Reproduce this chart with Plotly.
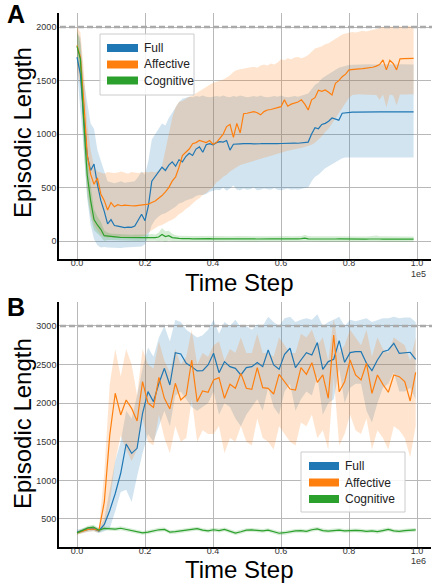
import numpy as np
import plotly.graph_objects as go

W, H = 432, 583

# ---------------- Panel A data (x in units of 1e5 steps) ----------------
steps_a = np.arange(100) * 1000
max_len_a = 2000

full_a = [1720,1560,1150,800,660,720,530,380,280,160,
          200,145,140,135,125,130,128,140,200,250,
          190,330,560,600,650,690,660,710,740,700,
          760,740,790,820,800,860,880,830,900,910,
          900,920,930,925,940,850,905,910,908,910,
          912,910,908,912,910,912,910,913,912,910,
          912,914,912,913,915,914,916,918,925,1000,
          1060,1050,1090,1100,1120,1150,1140,1130,1195,1200,
          1205,1206,1206,1207,1207,1207,1206,1207,1207,1208,
          1207,1207,1207,1208,1207,1207,1207,1207,1207,1207]
full_a_hi = [1950,1900,1500,1300,1100,1050,850,750,650,560,
             550,540,550,560,545,550,555,560,600,650,
             620,750,950,1000,1050,1100,1080,1150,1200,1250,
             1300,1330,1340,1350,1345,1355,1350,1360,1350,1345,
             1350,1355,1350,1360,1350,1345,1355,1350,1360,1350,
             1345,1350,1355,1350,1360,1350,1345,1350,1355,1350,
             1360,1350,1345,1350,1355,1350,1360,1365,1380,1420,
             1460,1480,1520,1540,1560,1580,1600,1620,1630,1640,
             1645,1648,1650,1650,1648,1650,1652,1650,1648,1650,
             1652,1650,1650,1648,1650,1652,1650,1650,1650,1650]
full_a_lo = [1600,1250,850,400,150,20,-40,-60,-55,-60,
             -62,-58,-60,-65,-60,-58,-62,-60,-55,-50,
             -30,50,150,200,230,250,260,280,300,320,
             350,360,380,390,400,420,430,430,440,460,
             470,480,475,500,470,490,520,480,475,490,
             480,485,500,475,480,490,485,480,495,480,
             475,485,490,480,485,480,490,495,500,560,
             600,620,650,680,700,720,740,760,775,780,
             780,782,780,778,780,782,780,780,778,780,
             782,780,780,778,780,780,782,780,780,780]

aff_a = [1830,1720,1300,810,625,530,590,440,380,290,
         360,320,340,330,335,330,330,328,332,335,
         340,345,360,375,400,425,460,500,560,600,
         690,800,830,860,910,920,940,930,920,940,
         905,920,960,1000,1070,1090,970,1100,1010,1190,
         1195,1200,1210,1200,1180,1210,1225,1230,1240,1250,
         1256,1320,1260,1280,1290,1300,1320,1280,1225,1320,
         1340,1410,1400,1412,1390,1366,1475,1500,1537,1560,
         1600,1605,1608,1610,1612,1615,1616,1625,1635,1650,
         1694,1600,1690,1660,1600,1704,1706,1706,1707,1707]
aff_a_hi = [2000,1950,1600,1100,850,700,650,640,630,645,
            640,635,640,650,640,630,645,640,635,640,
            645,640,650,640,660,700,850,1000,1150,1250,
            1300,1310,1330,1350,1360,1380,1400,1420,1440,1460,
            1480,1490,1500,1510,1530,1550,1580,1600,1605,1610,
            1620,1625,1630,1620,1640,1650,1640,1660,1650,1670,
            1700,1690,1710,1700,1715,1720,1710,1720,1740,1770,
            1800,1810,1820,1840,1850,1870,1890,1910,1930,1940,
            1950,1955,1950,1960,1965,1960,1970,1975,1980,1990,
            2000,1995,2005,2000,2010,2005,2000,2010,2005,2005]
aff_a_lo = [1600,1450,1000,500,250,150,100,60,40,30,
            35,30,40,35,30,35,40,30,35,40,
            50,80,100,120,140,150,170,185,200,220,
            250,270,300,320,350,380,400,430,450,480,
            500,550,570,600,620,650,670,690,710,720,
            730,740,750,760,770,780,790,800,810,820,
            830,840,845,850,860,865,870,880,890,900,
            920,950,980,1020,1050,1100,1150,1200,1250,1300,
            1340,1365,1370,1372,1370,1368,1370,1370,1365,1320,
            1370,1250,1370,1360,1270,1370,1368,1370,1372,1370]

cog_a = [1820,1700,1100,620,380,200,150,110,50,45,
         40,38,36,33,32,33,31,32,30,32,
         33,31,34,32,38,62,42,50,32,26,
         24,22,24,22,21,22,24,22,21,22,
         21,22,21,20,22,21,20,21,22,21,
         20,21,20,19,21,20,19,20,21,20,
         19,20,21,19,20,21,22,28,21,20,
         19,20,19,20,19,18,19,20,19,18,
         19,18,19,18,19,18,19,20,24,19,
         18,19,18,19,18,19,18,17,18,17]
cog_a_spread = [150,150,250,200,150,100,80,70,50,35,
                30,30,30,28,30,30,28,30,30,30,
                30,30,32,30,40,60,50,45,35,28,
                25,25,25,25,25,25,25,25,25,25,
                25,25,25,25,25,25,25,25,25,25,
                25,25,25,25,25,25,25,25,25,25,
                25,25,25,25,25,25,25,30,25,25,
                25,25,25,25,25,25,25,25,25,25,
                25,25,25,25,25,25,25,25,28,25,
                25,25,25,25,25,25,25,25,25,25]

# ---------------- Panel B data (x in units of 1e6 steps) ----------------
steps_b = np.arange(63) * 16065
max_len_b = 3000

full_b = [330,350,365,375,345,430,610,830,1092,1471,
          1350,1415,1869,2149,2019,2257,2451,2235,2654,2637,
          2516,2473,2417,2421,2494,2646,2395,2538,2473,2451,
          2365,2460,2473,2525,2473,2689,2494,2438,2633,2711,
          2460,2559,2654,2624,2784,2438,2538,2568,2810,2529,
          2654,2667,2667,2516,2421,2559,2667,2689,2775,2646,
          2654,2659,2568]
full_b_hi = [360,380,395,405,375,500,900,1250,1500,1900,
             1800,2100,2450,2720,2600,2850,3000,2800,3080,3050,
             2950,2900,2850,2880,2950,3080,2900,3050,3000,3080,
             2980,3000,2950,3020,3000,3120,3050,3000,3100,3120,
             3050,3080,3100,3080,3150,3000,3050,3080,3120,3000,
             3080,3060,3080,3100,3050,3080,3100,3100,3120,3100,
             3110,3110,3050]
full_b_lo = [300,320,335,345,315,340,380,600,850,880,
             720,1050,1350,1600,1500,1700,1900,1700,2100,2150,
             2050,1950,1900,1950,2000,2150,1850,2000,1950,1800,
             1700,1850,1950,2050,1900,2200,1950,1850,2150,2250,
             1900,2050,2150,2100,2350,1850,2000,2050,2450,2000,
             2200,2250,2250,1900,1750,2000,2200,2250,2400,2150,
             2150,2200,2050]

aff_b = [320,345,365,370,350,720,1588,2128,1847,2041,
         1933,1769,2278,2001,1945,2335,2063,1925,2257,2041,
         2106,2559,2020,2158,2141,2300,2330,2063,2244,2192,
         2386,2192,2179,2459,2201,2192,2118,2373,2278,2183,
         2170,2459,2373,2524,2270,2365,2063,2882,2148,2278,
         2559,2365,2300,2516,2127,2365,2244,2141,2365,2343,
         2278,2028,2399]
aff_b_hi = [345,375,395,400,380,1100,2250,2700,2350,2700,
            2500,2100,2700,2500,2450,2800,2550,2400,2700,2500,
            2600,2950,2500,2650,2600,2750,2800,2550,2700,2650,
            2850,2650,2650,2900,2650,2650,2600,2850,2750,2650,
            2650,2900,2850,2950,2750,2850,2550,3100,2650,2750,
            2950,2850,2750,2950,2600,2850,2700,2650,2850,2800,
            2750,2550,2850]
aff_b_lo = [295,315,335,340,320,380,700,1250,1580,1400,
            1250,1400,1800,1500,1450,1850,1550,1350,1700,1500,
            1550,2050,1500,1650,1600,1600,1700,1350,1550,1500,
            1700,1500,1450,1800,1550,1500,1400,1700,1600,1500,
            1450,1750,1700,1850,1550,1650,1400,2350,1450,1600,
            1850,1650,1600,1800,1400,1650,1550,1400,1700,1650,
            1550,1300,1700]

cog_b = [320,355,385,395,355,378,372,368,380,365,
         350,335,320,330,345,360,365,330,335,345,
         350,365,375,355,345,360,350,365,345,318,
         335,355,358,352,345,355,330,315,322,335,
         345,348,340,360,372,350,342,350,355,345,
         350,352,348,340,345,335,350,365,345,340,
         348,352,358]
cog_b_spread = [22,25,28,30,28,25,25,25,25,25,
                25,25,25,25,25,25,25,25,25,25,
                25,25,25,25,25,25,25,25,25,25,
                25,25,25,25,25,25,25,25,25,25,
                25,25,25,25,25,25,25,25,25,25,
                25,25,25,25,25,25,25,25,25,25,
                25,25,25]

series_names = ["Full", "Affective", "Cognitive"]
xtick_vals = [0.0, 0.2, 0.4, 0.6, 0.8, 1.0]
xtick_text = ["0.0", "0.2", "0.4", "0.6", "0.8", "1.0"]
ytick_a = [0, 500, 1000, 1500, 2000]
ytick_b = [500, 1000, 1500, 2000, 2500, 3000]

# ---------------- styling ----------------
COLORS = ["#1f77b4", "#ff7f0e", "#2ca02c"]
FILLS = ["rgba(31,119,180,0.2)", "rgba(255,127,14,0.2)", "rgba(44,160,44,0.2)"]
FONT = "Liberation Sans, Arial, Helvetica, sans-serif"
GRID = "#b8b8b8"

def px(x):
    return x / W

def py(y):
    return 1 - y / H

x_a = steps_a / 1e5
x_b = steps_b / 1e6

fig = go.Figure()

def add_band(x, lo, hi, fill, xa, ya):
    fig.add_trace(go.Scatter(x=x, y=hi, mode="lines", line=dict(width=0),
                             hoverinfo="skip", showlegend=False, xaxis=xa, yaxis=ya))
    fig.add_trace(go.Scatter(x=x, y=lo, mode="lines", line=dict(width=0), fill="tonexty",
                             fillcolor=fill, hoverinfo="skip", showlegend=False, xaxis=xa, yaxis=ya))

def add_line(x, y, color, name, xa, ya):
    fig.add_trace(go.Scatter(x=x, y=y, mode="lines", line=dict(width=1.2, color=color),
                             name=name, showlegend=False, xaxis=xa, yaxis=ya))

cog_a_hi = np.array(cog_a) + np.array(cog_a_spread)
cog_a_lo = np.array(cog_a) - np.array(cog_a_spread)
cog_b_hi = np.array(cog_b) + np.array(cog_b_spread)
cog_b_lo = np.array(cog_b) - np.array(cog_b_spread)

bands_a = [(full_a_lo, full_a_hi), (aff_a_lo, aff_a_hi), (cog_a_lo, cog_a_hi)]
bands_b = [(full_b_lo, full_b_hi), (aff_b_lo, aff_b_hi), (cog_b_lo, cog_b_hi)]
means_a = [full_a, aff_a, cog_a]
means_b = [full_b, aff_b, cog_b]

for i in range(3):
    add_band(x_a, bands_a[i][0], bands_a[i][1], FILLS[i], "x", "y")
for i in range(3):
    add_line(x_a, means_a[i], COLORS[i], series_names[i], "x", "y")
for i in range(3):
    add_band(x_b, bands_b[i][0], bands_b[i][1], FILLS[i], "x2", "y2")
for i in range(3):
    add_line(x_b, means_b[i], COLORS[i], series_names[i], "x2", "y2")

# ---------------- axes ----------------
x_left_px, x_right_px = 59, 431
x0_px, x1_px = 77, 417
x_per_px = 1.0 / (x1_px - x0_px)
xr = [(x_left_px - x0_px) * x_per_px, (x_right_px - x0_px) * x_per_px]

common_x = dict(range=xr, showgrid=True, gridcolor=GRID, gridwidth=1.2, zeroline=False,
                showline=True, linecolor="black", linewidth=1.6, ticks="",
                ticklabelstandoff=-6,
                tickvals=xtick_vals, ticktext=xtick_text,
                tickfont=dict(family=FONT, size=9, color="#333333"),
                domain=[px(x_left_px), px(x_right_px)])
common_y = dict(showgrid=True, gridcolor=GRID, gridwidth=1.2, zeroline=False,
                showline=True, linecolor="black", linewidth=1.6, ticks="",
                ticklabelstandoff=-1,
                tickfont=dict(family=FONT, size=9, color="#333333"))

fig.update_layout(
    width=W, height=H, margin=dict(l=0, r=0, t=0, b=0),
    paper_bgcolor="white", plot_bgcolor="white", showlegend=False,
    xaxis=dict(anchor="y", **common_x),
    yaxis=dict(anchor="x", domain=[py(259), py(13)], range=[-168, 2132],
               tickvals=ytick_a, ticktext=[str(v) for v in ytick_a], **common_y),
    xaxis2=dict(anchor="y2", **common_x),
    yaxis2=dict(anchor="x2", domain=[py(547), py(302)], range=[137, 3310],
                tickvals=ytick_b, ticktext=[str(v) for v in ytick_b], **common_y),
)

# dashed max-length reference lines
for yref, val in (("y", max_len_a), ("y2", max_len_b)):
    fig.add_shape(type="line", xref="paper", yref=yref, x0=px(x_left_px + 1), x1=1.0,
                  y0=val, y1=val, line=dict(color="#aaaaaa", width=2.5, dash="6px,3px"),
                  layer="above")

# ---------------- text ----------------
ann = []
for (cy_title, cy_xlabel, cy_label, cy_off, off) in ((133, 282, 14, 274, "1e5"),
                                                     (424, 569, 307, 561, "1e6")):
    ann.append(dict(text="Episodic Length", x=px(22), y=py(cy_title), xref="paper", yref="paper",
                    textangle=-90, showarrow=False, xanchor="center", yanchor="middle",
                    font=dict(family=FONT, size=24, color="black")))
    ann.append(dict(text="Time Step", x=px(239), y=py(cy_xlabel), xref="paper", yref="paper",
                    showarrow=False, xanchor="center", yanchor="middle",
                    font=dict(family=FONT, size=24, color="black")))
    ann.append(dict(text="<b>%s</b>" % ("A" if off == "1e5" else "B"), x=px(16), y=py(cy_label),
                    xref="paper", yref="paper", showarrow=False, xanchor="center", yanchor="middle",
                    font=dict(family=FONT, size=25, color="black")))
    ann.append(dict(text=off, x=px(418), y=py(cy_off), xref="paper", yref="paper",
                    showarrow=False, xanchor="center", yanchor="middle",
                    font=dict(family=FONT, size=9, color="#333333")))

# manual legends (patch style)
def legend(box, patch_x, text_x, rows):
    x0, y0, x1, y1 = box
    fig.add_shape(type="rect", xref="paper", yref="paper", x0=px(x0), x1=px(x1), y0=py(y1), y1=py(y0),
                  line=dict(color="#cccccc", width=1), fillcolor="rgba(255,255,255,0.85)", layer="above")
    for i, ry in enumerate(rows):
        fig.add_shape(type="rect", xref="paper", yref="paper", x0=px(patch_x[0]), x1=px(patch_x[1]),
                      y0=py(ry + 4), y1=py(ry - 4), line=dict(width=0), fillcolor=COLORS[i], layer="above")
        ann.append(dict(text=series_names[i], x=px(text_x), y=py(ry), xref="paper", yref="paper",
                        showarrow=False, xanchor="left", yanchor="middle",
                        font=dict(family=FONT, size=12, color="#222222")))

legend((100, 34, 194, 95), (107, 138), 142, [48, 64.5, 80.5])
legend((301, 452, 405, 512), (309, 339), 343, [466, 482.5, 499])

fig.update_layout(annotations=ann)
fig.write_html("out.html", config={"displayModeBar": False},
               post_script="document.body.style.margin='0';document.body.style.padding='0';"
                           "document.body.style.overflow='hidden';")
